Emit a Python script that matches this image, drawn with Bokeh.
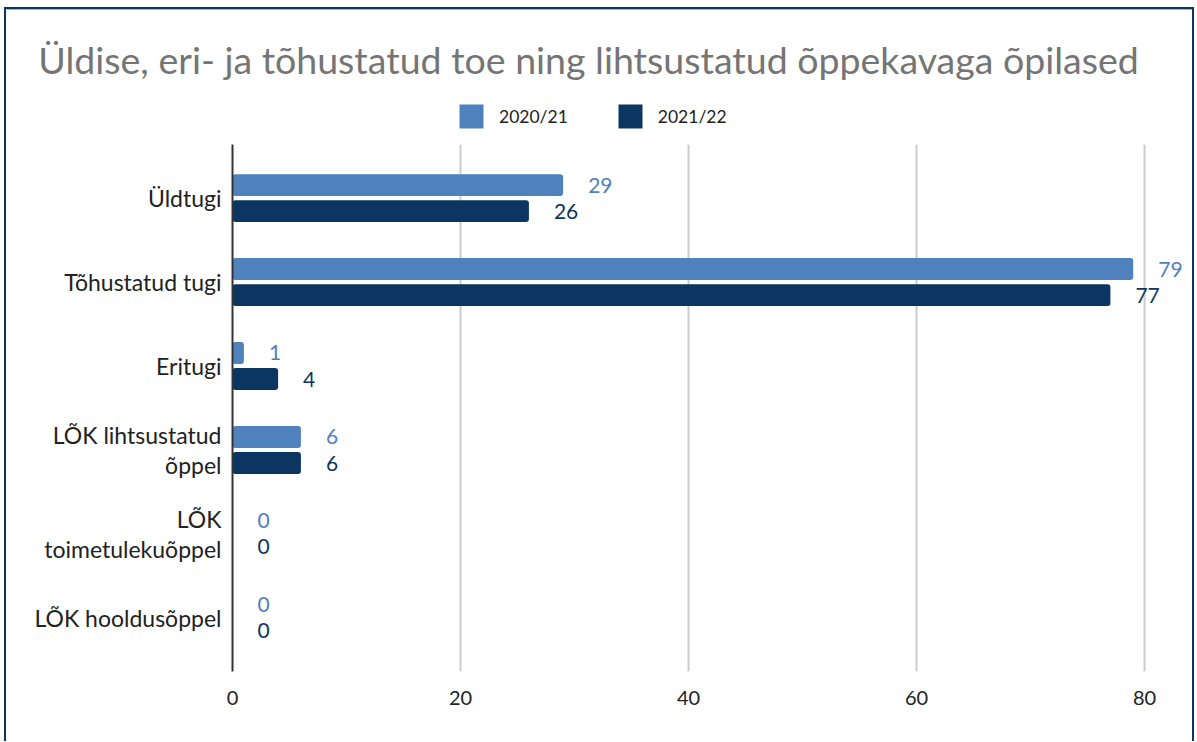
from bokeh.plotting import figure
from bokeh.layouts import column
from bokeh.models import (FactorRange, Range1d, ColumnDataSource, Legend, LegendItem,
                          FixedTicker, LabelSet, Label)
from bokeh.transform import dodge
from bokeh.core.properties import value
from bokeh.embed import file_html
from bokeh.resources import INLINE

title_text = "Üldise, eri- ja tõhustatud toe ning lihtsustatud õppekavaga õpilased"
categories = ["Üldtugi", "Tõhustatud tugi", "Eritugi", "LÕK lihtsustatud\nõppel",
              "LÕK\ntoimetulekuõppel", "LÕK hooldusõppel"]
series_names = ["2020/21", "2021/22"]
values_2020 = [29, 79, 1, 6, 0, 0]
values_2021 = [26, 77, 4, 6, 0, 0]
x_ticks = [0, 20, 40, 60, 80]

C1 = "#4f81bd"
C2 = "#0b3661"
FONT = "Lato"
BORDER = "#0b3661"
W = 1186
LEFT = 226

# ---------- header figure: title + legend ----------
top = figure(width=W, height=135, output_backend="svg", toolbar_location=None,
             x_range=Range1d(0, 1), y_range=Range1d(0, 1),
             x_axis_location=None, y_axis_location=None, min_border=0)
top.grid.visible = False
top.outline_line_color = None
top.background_fill_color = "white"
top.border_fill_color = "white"

p = figure(width=W, height=597, output_backend="svg", toolbar_location=None,
           y_range=FactorRange(factors=list(reversed(categories)), range_padding=0.046),
           x_range=Range1d(0, 84.2),
           min_border_left=LEFT, min_border_right=0, min_border_top=0, min_border_bottom=70)

# header frame offset: 0 when frames are not aligned, else aligned with main frame
frame_left = LEFT
if "frame_align" in top.properties():
    top.frame_align = False
    p.frame_align = False
    frame_left = 0

top.add_layout(Label(x=582 - frame_left, y=85, x_units="screen", y_units="screen", text=title_text,
                     text_align="center", text_baseline="middle", text_font=FONT,
                     text_font_size="37.5px", text_color="#757575"))

# legend proxies (kept outside the visible header range)
d1 = top.hbar(y=[5], right=[1], left=0, height=1, fill_color=C1, line_color=None)
d2 = top.hbar(y=[5], right=[1], left=0, height=1, fill_color=C2, line_color=None)
legend = Legend(items=[LegendItem(label=series_names[0], renderers=[d1]),
                       LegendItem(label=series_names[1], renderers=[d2])],
                orientation="horizontal", location=(450 - frame_left, 13),
                label_text_font=FONT, label_text_font_size="17.5px", label_text_color="#222222",
                glyph_width=30, glyph_height=30, spacing=47, label_standoff=13,
                border_line_color=None, background_fill_alpha=0, margin=0, padding=0)
top.add_layout(legend, "center")

# ---------- main chart ----------
src = ColumnDataSource(dict(cat=categories, v1=values_2020, v2=values_2021,
                            t1=[str(v) for v in values_2020], t2=[str(v) for v in values_2021]))

r1 = p.hbar(y=dodge("cat", 0.155, range=p.y_range), right="v1", left=0, height=0.26,
            source=src, fill_color=C1, line_color=None, border_radius=3)
r2 = p.hbar(y=dodge("cat", -0.155, range=p.y_range), right="v2", left=0, height=0.26,
            source=src, fill_color=C2, line_color=None, border_radius=3)

l1 = LabelSet(x="v1", y=dodge("cat", 0.155, range=p.y_range), text="t1", source=src,
              x_offset=25, text_baseline="middle", text_align="left",
              text_font=value(FONT), text_font_size=value("21px"), text_color=value(C1))
l2 = LabelSet(x="v2", y=dodge("cat", -0.155, range=p.y_range), text="t2", source=src,
              x_offset=25, text_baseline="middle", text_align="left",
              text_font=value(FONT), text_font_size=value("21px"), text_color=value(C2))
p.add_layout(l1)
p.add_layout(l2)

p.xaxis.ticker = FixedTicker(ticks=x_ticks)
p.xaxis.axis_line_color = None
p.xaxis.major_tick_line_color = None
p.xaxis.minor_tick_line_color = None
p.xaxis.major_label_text_font = FONT
p.xaxis.major_label_text_font_size = "20px"
p.xaxis.major_label_text_color = "#222222"
p.xaxis.major_label_standoff = 13

p.yaxis.axis_line_color = "#333333"
p.yaxis.axis_line_width = 2
p.yaxis.major_tick_line_color = None
p.yaxis.minor_tick_line_color = None
p.yaxis.major_label_text_font = FONT
p.yaxis.major_label_text_font_size = "23px"
p.yaxis.major_label_text_color = "#222222"
p.yaxis.major_label_standoff = 5
p.yaxis.major_label_text_line_height = 1.1

p.ygrid.grid_line_color = None
p.xgrid.ticker = FixedTicker(ticks=[20, 40, 60, 80])
p.xgrid.grid_line_color = "#cccccc"
p.xgrid.grid_line_width = 2
p.outline_line_color = None
p.background_fill_color = "white"
p.border_fill_color = "white"

layout = column(top, p, spacing=0,
                styles={"border-top": f"2px solid {BORDER}", "border-left": f"2px solid {BORDER}",
                        "border-right": f"2px solid {BORDER}", "background-color": "white",
                        "margin-top": "7px", "margin-left": "4px"})

open("out.html", "w").write(file_html(layout, INLINE))
